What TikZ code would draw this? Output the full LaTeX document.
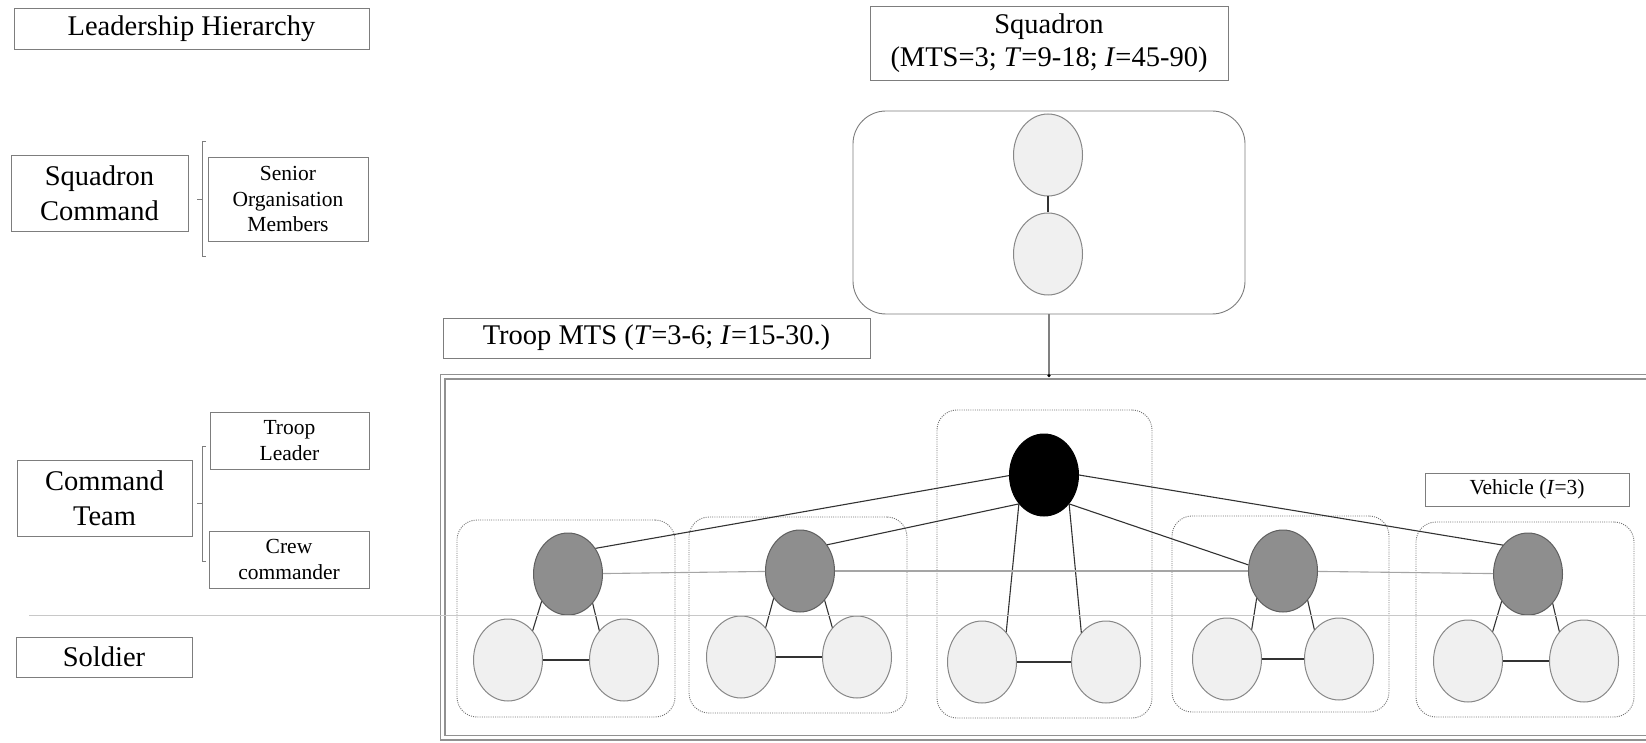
\documentclass[tikz,border=0pt]{standalone}
\usepackage{fontspec}
\setmainfont{Liberation Serif}
\usetikzlibrary{shapes.geometric}

\definecolor{edgegray}{RGB}{125,125,125}
\definecolor{softfill}{RGB}{240,240,240}
\definecolor{softedge}{RGB}{135,135,135}
\definecolor{midfill}{RGB}{142,142,142}
\definecolor{midedge}{RGB}{95,95,95}
\definecolor{linkdark}{RGB}{50,50,50}
\definecolor{linklight}{RGB}{165,165,165}
\definecolor{ruleline}{RGB}{200,200,200}
\definecolor{dotgray}{RGB}{115,115,115}
\definecolor{framegray}{RGB}{145,145,145}

\newcommand\bigtxt{\fontsize{28.5}{35}\selectfont}
\newcommand\smalltxt{\fontsize{21.5}{25.5}\selectfont}

\begin{document}
\begin{tikzpicture}[x=1pt,y=-1pt,
  labelbox/.style={draw=edgegray, line width=0.9pt, inner sep=0pt, align=center, font=\bigtxt},
  smallbox/.style={labelbox, font=\smalltxt},
  groupbox/.style={draw=edgegray, line width=0.9pt, rounded corners=33pt, inner sep=0pt},
  crewbox/.style={draw=dotgray, line width=0.9pt, dash pattern=on 1pt off 1.2pt, rounded corners=20pt, inner sep=0pt},
  soldier/.style={ellipse, draw=softedge, fill=softfill, line width=1pt, minimum width=69pt, minimum height=82pt, inner sep=0pt},
  commander/.style={soldier, draw=midedge, fill=midfill},
  leader/.style={soldier, draw=black, fill=black},
  tie/.style={draw=linkdark, line width=1.1pt},
  peer/.style={draw=linklight, line width=1.1pt},
  brace/.style={draw=edgegray, line width=0.9pt},
  troopframe/.style={draw=framegray, double=white, double distance=2.4pt, line width=1.8pt, inner sep=0pt}
]
\useasboundingbox (0,0) rectangle (1646,743);
\clip (0,0) rectangle (1646,743);

% ---- left-hand legend ----
\node[labelbox, minimum width=355pt, minimum height=41pt] (lh) at (191.5,28.5) {Leadership Hierarchy};
\node[labelbox, minimum width=177pt, minimum height=76pt] (sc) at (99.5,193) {Squadron\\Command};
\node[smallbox, minimum width=160pt, minimum height=84pt] (som) at (288,199) {Senior\\Organisation\\Members};
\node[labelbox, minimum width=175pt, minimum height=76pt] (ct) at (104.5,498) {Command\\Team};
\node[smallbox, minimum width=159pt, minimum height=57pt] (tl) at (289.5,440.5) {Troop\\Leader};
\node[smallbox, minimum width=160pt, minimum height=57pt] (cc) at (289,559.5) {Crew\\commander};
\node[labelbox, minimum width=176pt, minimum height=40pt] (so) at (104,657) {Soldier};

% brackets grouping the legend entries
\coordinate (b1top) at (202,141);
\coordinate (b1bot) at (202,256);
\draw[brace] ([xshift=4pt]b1top) -- (b1top) -- (b1bot) -- ([xshift=4pt]b1bot);
\draw[brace] (197,199) -- (202,199);
\coordinate (b2top) at (202,446);
\coordinate (b2bot) at (202,561);
\draw[brace] ([xshift=4pt]b2top) -- (b2top) -- (b2bot) -- ([xshift=4pt]b2bot);
\draw[brace] (197,503) -- (202,503);

% ---- squadron level ----
\node[labelbox, minimum width=358pt, minimum height=74pt, font=\fontsize{28.5}{33}\selectfont] (sq) at (1049,43) {Squadron\\(MTS=3; \textit{T}=9-18; \textit{I}=45-90)};
\node[groupbox, minimum width=392pt, minimum height=203pt] (sqg) at (1049,212.5) {};
\node[soldier] (s1) at (1048,155) {};
\node[soldier] (s2) at (1048,254) {};
\draw[tie] (s1) -- (s2);

% ---- troop level ----
\node[labelbox, minimum width=427pt, minimum height=40pt] (tm) at (656.5,338) {Troop MTS (\textit{T}=3-6; \textit{I}=15-30.)};
\node[troopframe, minimum width=1257.5pt, minimum height=361pt] (troop) at (1071.25,557) {};
\draw[draw=gray, line width=1.3pt] (sqg.south) -- (sqg.south |- troop.north) coordinate (drop);
\fill[black] (drop) circle (1.8pt);

\node[smallbox, minimum width=204pt, minimum height=33pt] (vl) at (1527,489.5) {Vehicle (\textit{I}=3)};

% vehicle crews
\node[crewbox, minimum width=218pt, minimum height=197pt] (v1) at (566,618.5) {};
\node[crewbox, minimum width=218pt, minimum height=196pt] (v2) at (798,615) {};
\node[crewbox, minimum width=215pt, minimum height=308pt] (v3) at (1044.5,564) {};
\node[crewbox, minimum width=217pt, minimum height=196pt] (v4) at (1280.5,614) {};
\node[crewbox, minimum width=218pt, minimum height=195pt] (v5) at (1525,619.5) {};

\node[commander] (g1) at (568,574) {};
\node[soldier] (a1) at (508,660) {};
\node[soldier] (b1) at (624,660) {};

\node[commander] (g2) at (800,571) {};
\node[soldier] (a2) at (741,657) {};
\node[soldier] (b2) at (857,657) {};

\node[leader] (k) at (1044,475) {};
\node[soldier] (a3) at (982,662) {};
\node[soldier] (b3) at (1106,662) {};

\node[commander] (g4) at (1283,571) {};
\node[soldier] (a4) at (1227,659) {};
\node[soldier] (b4) at (1339,659) {};

\node[commander] (g5) at (1528,574) {};
\node[soldier] (a5) at (1468,661) {};
\node[soldier] (b5) at (1584,661) {};

% crew links inside each vehicle
\foreach \v in {1,2,4,5} {
  \draw[tie] (g\v.226) -- (a\v.50);
  \draw[tie] (g\v.310) -- (b\v.130);
  \draw[tie] (a\v) -- (b\v);
}
\draw[tie] (k.229) -- (a3.51);
\draw[tie] (k.311) -- (b3.130);
\draw[tie] (a3) -- (b3);

% troop leader to crew commanders
\draw[tie] (k.181) -- (g1.43);
\draw[tie] (k.229) -- (g2.44);
\draw[tie] (k.311) -- (g4.170);
\draw[tie] (k.0) -- (g5.131);

% crew commanders to one another
\draw[peer] (g1) -- (g2);
\draw[peer] (g2) -- (g4);
\draw[peer] (g4) -- (g5);

% separator between command and soldier levels
\draw[ruleline, line width=1pt] (29,615) -- (1646,615);
\end{tikzpicture}
\end{document}
